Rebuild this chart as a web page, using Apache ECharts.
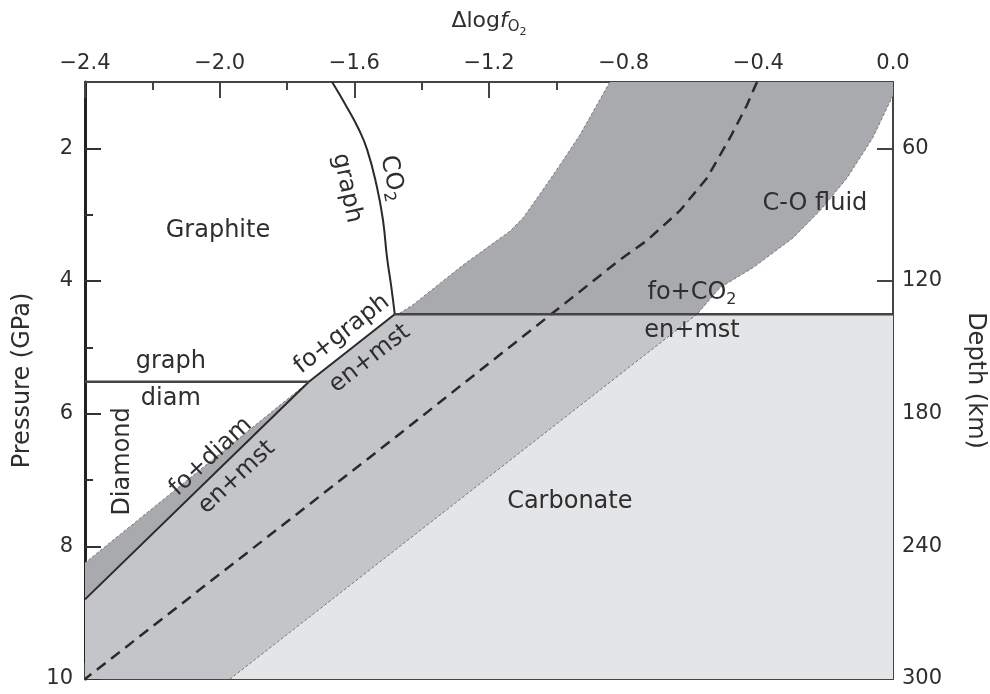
<!DOCTYPE html>
<html>
<head>
<meta charset="utf-8">
<script src="https://cdn.jsdelivr.net/npm/echarts@6/dist/echarts.min.js"></script>
<style>
  html, body { margin: 0; padding: 0; background: #fff; }
  #main { width: 990px; height: 694px; }
</style>
</head>
<body>
<div id="main"></div>
<script>
// ---- data (x = Δlog fO2, y = pressure in GPa) ----
const xTickValues = [-2.4, -2.0, -1.6, -1.2, -0.8, -0.4, 0.0];
const pressureTicks = [2, 4, 6, 8, 10];
const pressureMinorTicks = [3, 5, 7, 9];
const depthTicks = [60, 120, 180, 240, 300];

// upper-left edge of the grey band (above the fo+CO2 reaction)
const bandUpperEdge = [[-0.841, 1.0], [-0.93, 1.8], [-0.989, 2.25], [-1.05, 2.7], [-1.099, 3.05],
  [-1.138, 3.25], [-1.277, 3.76], [-1.426, 4.36], [-1.47, 4.5]];
// upper-left edge of the band below 4.5 GPa
const bandLowerEdgeLeft = [[-1.48, 4.5], [-1.735, 5.52], [-2.4, 8.25]];
// lower-right edge of the band
const bandRightUpper = [[0, 1.2], [-0.06, 1.84], [-0.137, 2.45], [-0.217, 2.94],
  [-0.297, 3.35], [-0.416, 3.8], [-0.514, 4.1], [-0.582, 4.5]];
const bandRightLower = [[-0.582, 4.5], [-1.969, 10]];
// dashed middle curve
const midCurve = [[-0.404, 1.0], [-0.434, 1.35], [-0.484, 1.84], [-0.553, 2.45],
  [-0.633, 2.94], [-0.731, 3.39], [-0.811, 3.68], [-1.01, 4.48], [-1.494, 6.42], [-2.4, 10]];
// fo+graph/diam = en+mst reaction
const reactionLine = [[-1.48, 4.5], [-1.735, 5.52], [-2.4, 8.8]];
// CO2 / graph boundary
const co2GraphLine = [[-1.666, 1.0], [-1.622, 1.38], [-1.589, 1.69], [-1.562, 2.02],
  [-1.533, 2.58], [-1.515, 3.08], [-1.503, 3.64], [-1.491, 4.06], [-1.48, 4.5]];
const graphDiamLine = [[-2.4, 5.52], [-1.735, 5.52]];
const fluidLine = [[-1.48, 4.5], [0, 4.5]];

const labels = [
  { text: 'Graphite', x: -2.005, y: 3.24, rot: 0 },
  { text: 'CO{s|2}', x: -1.488, y: 2.45, rot: -78 },
  { text: 'graph', x: -1.622, y: 2.6, rot: -78 },
  { text: 'fo+graph', x: -1.637, y: 4.8, rot: 38 },
  { text: 'en+mst', x: -1.554, y: 5.17, rot: 38 },
  { text: 'graph', x: -2.145, y: 5.22, rot: 0 },
  { text: 'diam', x: -2.145, y: 5.77, rot: 0 },
  { text: 'Diamond', x: -2.287, y: 6.72, rot: 90 },
  { text: 'fo+diam', x: -2.026, y: 6.65, rot: 43 },
  { text: 'en+mst', x: -1.949, y: 6.96, rot: 43 },
  { text: 'fo+CO{s|2}', x: -0.597, y: 4.18, rot: 0 },
  { text: 'en+mst', x: -0.597, y: 4.75, rot: 0 },
  { text: 'C-O fluid', x: -0.232, y: 2.84, rot: 0 },
  { text: 'Carbonate', x: -0.96, y: 7.33, rot: 0 }
];

const font = 'DejaVu Sans';
const ink = '#2e2e2e';

function area(points, color) {
  return {
    type: 'custom', data: points, silent: true, z: 1, clip: true,
    renderItem: function (params, api) {
      if (params.dataIndex !== 0) return null;
      return {
        type: 'polygon',
        shape: { points: points.map(p => api.coord(p)) },
        style: { fill: color }
      };
    }
  };
}

function line(points, width, color, type, smooth) {
  return {
    type: 'line', data: points, symbol: 'none', silent: true, z: 3,
    smooth: smooth || false,
    lineStyle: { width: width, color: color, type: type || 'solid' }
  };
}

const upperBand = [...bandUpperEdge, ...[...bandRightUpper].reverse(), [0, 1.0]];
const midBand = [...bandRightLower, [-2.4, 10], ...[...reactionLine].reverse()];
const diamWedge = [...bandLowerEdgeLeft, ...[...reactionLine].reverse()];
const carbonate = [...bandRightLower, [0, 10], [0, 4.5]];

const fmtX = v => (v < -1e-9 ? '\u2212' : '') + Math.abs(v).toFixed(1);

const chart = echarts.init(document.getElementById('main'));
chart.setOption({
  animation: false,
  grid: { left: 85, right: 97, top: 82, bottom: 15, outerBoundsMode: 'none' },
  xAxis: [
    {
      type: 'value', position: 'top', min: -2.4, max: 0, interval: 0.4,
      name: '{a|\u0394log}{f|f}{o|O}{t|2}', nameLocation: 'middle', nameGap: 44,
      nameTextStyle: {
        rich: {
          a: { fontFamily: font, fontSize: 22, color: ink },
          f: { fontFamily: font, fontSize: 22, fontStyle: 'italic', color: ink },
          o: { fontFamily: font, fontSize: 15, color: ink, padding: [12, 0, 0, 0] },
          t: { fontFamily: font, fontSize: 11, color: ink, padding: [22, 0, 0, 0] }
        }
      },
      axisLine: { onZero: false, lineStyle: { color: '#444', width: 2 } },
      axisTick: { inside: true, length: 16, lineStyle: { color: '#444', width: 2 } },
      minorTick: { show: true, splitNumber: 2, length: 8, lineStyle: { color: '#444', width: 2 } },
      axisLabel: { formatter: fmtX, fontFamily: font, fontSize: 21, color: ink, margin: 8 },
      splitLine: { show: false }
    },
    {
      type: 'value', position: 'bottom', min: -2.4, max: 0, interval: 0.4,
      axisLine: { onZero: false, lineStyle: { color: '#444', width: 2 } },
      axisTick: { inside: true, length: 16, lineStyle: { color: '#444', width: 2 } },
      minorTick: { show: true, splitNumber: 2, length: 8, lineStyle: { color: '#444', width: 2 } },
      axisLabel: { show: false },
      splitLine: { show: false }
    }
  ],
  yAxis: [
    {
      type: 'value', position: 'left', inverse: true, min: 1, max: 10, interval: 1,
      name: 'Pressure (GPa)', nameLocation: 'middle', nameGap: 50, nameRotate: 90,
      nameTextStyle: { fontFamily: font, fontSize: 24, color: ink },
      axisLine: { onZero: false, lineStyle: { color: '#222', width: 3 } },
      axisTick: { inside: true, length: 16, customValues: pressureTicks, lineStyle: { color: '#333', width: 2 } },
      axisLabel: { customValues: pressureTicks, fontFamily: font, fontSize: 21, color: ink, margin: 12 },
      splitLine: { show: false }
    },
    {
      type: 'value', position: 'left', inverse: true, min: 1, max: 10, interval: 1,
      axisLine: { show: false, onZero: false },
      axisTick: { inside: true, length: 8, customValues: pressureMinorTicks, lineStyle: { color: '#333', width: 2 } },
      axisLabel: { show: false },
      splitLine: { show: false }
    },
    {
      type: 'value', position: 'right', inverse: true, min: 30, max: 300, interval: 30,
      name: 'Depth (km)', nameLocation: 'middle', nameGap: 70, nameRotate: -90,
      nameTextStyle: { fontFamily: font, fontSize: 24, color: ink },
      axisLine: { onZero: false, lineStyle: { color: '#444', width: 2 } },
      axisTick: { inside: true, length: 16, customValues: depthTicks, lineStyle: { color: '#444', width: 2 } },
      axisLabel: { customValues: depthTicks, fontFamily: font, fontSize: 21, color: ink, margin: 9 },
      splitLine: { show: false }
    }
  ],
  series: [
    area(carbonate, '#e4e5e7'),
    area(midBand, '#c4c5c8'),
    area(upperBand, '#a9aaad'),
    area(diamWedge, '#a9aaad'),
    line(bandUpperEdge, 1, '#777', [3, 2]),
    line(bandLowerEdgeLeft, 1, '#777', [3, 2]),
    line(bandRightUpper, 1, '#777', [3, 2]),
    line(bandRightLower, 1, '#777', [3, 2]),
    line(midCurve, 2.5, '#2a2a2a', [11, 7]),
    line(reactionLine, 2, '#2a2a2a'),
    line(co2GraphLine, 2, '#2a2a2a', 'solid', true),
    line(graphDiamLine, 2.5, '#444'),
    line(fluidLine, 2.5, '#444'),
    {
      type: 'scatter', symbolSize: 0, silent: true, z: 5,
      itemStyle: { opacity: 1 },
      data: labels.map(l => ({ value: [l.x, l.y], label: { rotate: l.rot, formatter: l.text } })),
      label: {
        show: true, position: 'inside', fontFamily: font, fontSize: 24, color: ink,
        textBorderWidth: 0,
        rich: { s: { fontFamily: font, fontSize: 16, color: ink, textBorderWidth: 0, padding: [14, 0, 0, 0] } }
      }
    }
  ]
});
</script>
</body>
</html>
